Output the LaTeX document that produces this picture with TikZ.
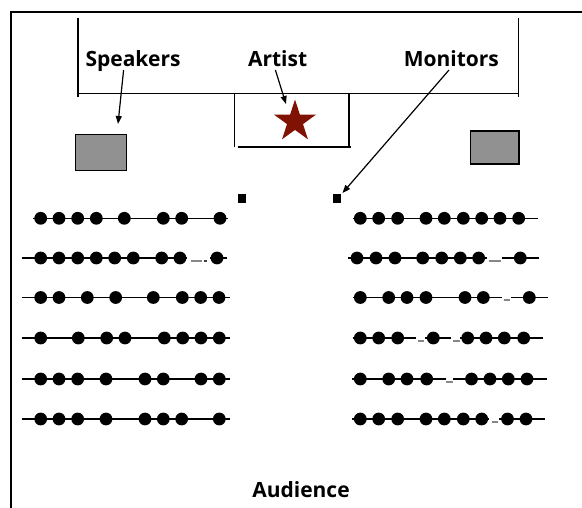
\documentclass[tikz,border=0pt]{standalone}
\usepackage{fontspec}
\newfontfamily\lblfont{Open Sans}
\usetikzlibrary{arrows.meta,shapes.geometric}
\definecolor{starred}{RGB}{128,18,4}
\definecolor{boxgray}{RGB}{145,145,145}
\definecolor{markgray}{RGB}{135,135,135}
\tikzset{
  lbl/.style={font=\lblfont\bfseries\fontsize{21}{24}\selectfont, anchor=base, inner sep=0pt},
  stageline/.style={line width=1.5pt},
  frameline/.style={line width=2pt},
  spkbox/.style={draw, line width=1.5pt, fill=boxgray},
  pointer/.style={line width=1.2pt, -{Triangle[length=8pt,width=6pt]}},
  rowline/.style={line width=1.4pt},
  graymark/.style={line width=2pt, markgray},
}
\newcommand\seatrow[4]{\draw[rowline] (#2,#1) -- (#3,#1);}
\newcommand\seatdots[2]{\foreach \d in {#2} {\fill (\d,#1) circle (6.4);}}
\newcommand\seatgap[5]{\fill[white] (#2,#1-1.7) rectangle (#3,#1+1.7); \draw[graymark] (#4,#1+3) -- (#5,#1+3);}
\begin{document}
\begin{tikzpicture}[x=1pt,y=-1pt]
\useasboundingbox (0,0) rectangle (582,508);
\clip (0,0) rectangle (582,508);
% frame
\draw[frameline] (10.5,520) -- (10.5,12) -- (600,12);
% stage
\draw[stageline] (78,18) -- (78,97);
\draw[stageline] (518.5,18) -- (518.5,97);
\draw[stageline] (78,93.5) -- (518.5,93.5);
% artist box
\draw[stageline] (234.6,93.5) -- (234.6,147);
\draw[stageline] (349,93.5) -- (349,147);
\draw[stageline] (237.5,147) -- (351,147);
\node[star, star points=5, star point ratio=2.618, fill=starred, minimum size=44pt, inner sep=0pt] (artist) at (295,121.5) {};
% speakers
\node[spkbox, minimum width=51.2pt, minimum height=36.3pt, inner sep=0pt] (spkL) at (101,152.5) {};
\node[spkbox, minimum width=48.7pt, minimum height=33pt, inner sep=0pt] (spkR) at (494.6,147.5) {};
% monitors
\node[fill=black, minimum width=8pt, minimum height=9.5pt, inner sep=0pt] (monL) at (241.6,198.6) {};
\node[fill=black, minimum width=8pt, minimum height=9.5pt, inner sep=0pt] (monR) at (337.4,198.6) {};
% labels
\node[lbl] (tSpk) at (133,66.8) {Speakers};
\node[lbl] (tArt) at (277.6,66.8) {Artist};
\node[lbl] (tMon) at (451.4,66.8) {Monitors};
\node[lbl] (tAud) at (301,497) {Audience};
% arrow ends
\coordinate (aSpk1) at (123.6,70);
\coordinate (aSpk2) at (118,124);
\coordinate (aArt1) at (275.4,70);
\coordinate (aArt2) at (286,104);
\coordinate (aMon1) at (449,70);
\coordinate (aMon2) at (342.5,193);
\draw[pointer] (aSpk1) -- (aSpk2);
\draw[pointer] (aArt1) -- (aArt2);
\draw[pointer] (aMon1) -- (aMon2);
% left rows
\seatrow{218.3}{33.3}{228}{}
\seatrow{258}{21.7}{226.7}{}
\seatrow{297.5}{21.7}{230}{}
\seatrow{338}{21.7}{230}{}
\seatrow{379}{21.7}{230}{}
\seatrow{419}{21.7}{230}{}
\seatgap{258}{187}{210}{190.5}{202}
\draw[line width=2pt, black!75] (203.5,261.5) -- (207,261.5);
\seatdots{218.3}{40.7,59,77.7,96.3,124.3,163.3,181.7,220}
\seatdots{258}{40.7,59,77.7,96.3,114.7,133.3,161.7,180,217}
\seatdots{297.5}{40.7,59,87.3,115.7,153.3,182.3,200.7,219}
\seatdots{338}{40.7,78.3,106.7,125,164.3,182.7,201,219.3}
\seatdots{379}{40.7,59,77.7,106,145,163.3,201,219.3}
\seatdots{419}{40.7,59,77.7,106,145,163.3,181.7,219.3}
% right rows
\seatrow{218.3}{352.7}{538.3}{}
\seatrow{258}{348.3}{539.3}{}
\seatrow{297.5}{352.7}{548.3}{}
\seatrow{338}{352.7}{543.3}{}
\seatrow{379}{352}{547}{}
\seatrow{419}{352}{545.3}{}
\seatgap{258}{487}{501.5}{488.5}{500.5}
\seatgap{297.5}{502}{510.5}{503.5}{510}
\seatgap{338}{415.5}{425}{418}{424}
\seatgap{338}{450.5}{460}{453.3}{459.5}
\seatgap{379}{445.5}{453}{446}{452.7}
\seatgap{419}{488.5}{498.5}{491.7}{497.7}
\seatdots{218.3}{360.3,378.7,397.7,426,444.3,463.3,481.7,500,518.7}
\seatdots{258}{357,376,395,422.7,441.7,460.3,478.7,520.3}
\seatdots{297.5}{360.3,388.7,407,426,465,483.3,529.3}
\seatdots{338}{360.3,378.7,397.7,433.3,467.7,486,504.3,523.7}
\seatdots{379}{360.3,388.7,407,426.7,471.5,490,508.3,527}
\seatdots{419}{360.3,378.7,397.7,426,444.3,463.3,481.7,507.5,526}
\end{tikzpicture}
\end{document}
